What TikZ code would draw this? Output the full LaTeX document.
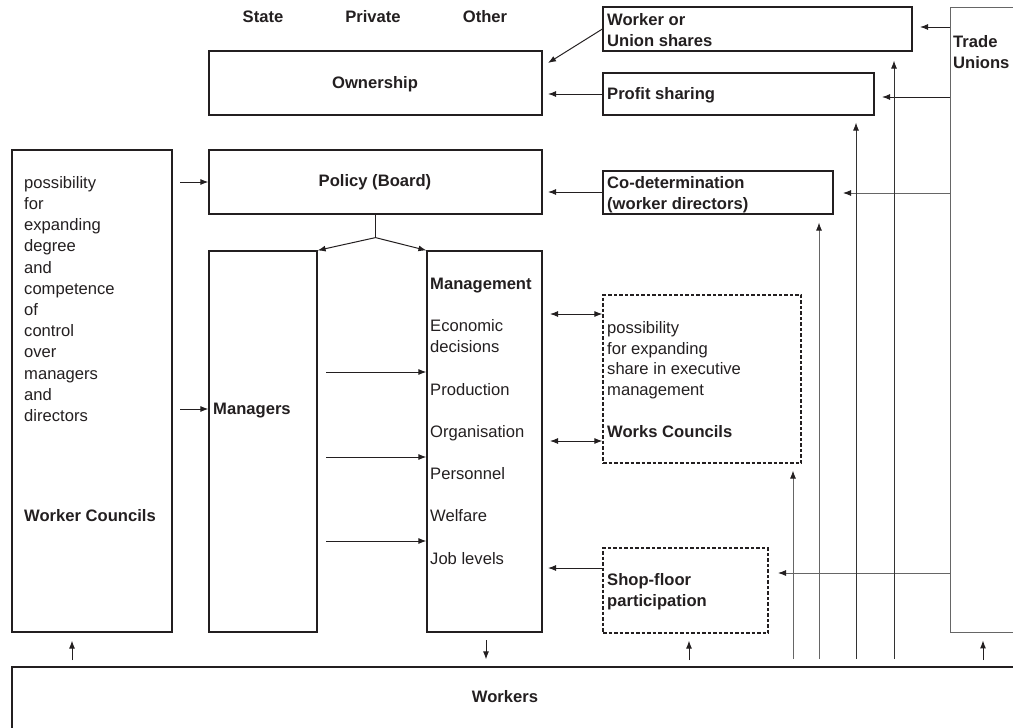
\documentclass[tikz,border=0pt]{standalone}
\usepackage{fontspec}
\setmainfont{Liberation Sans}
\usetikzlibrary{arrows.meta,calc}
\definecolor{ink}{HTML}{231F20}
\newcommand\fstrut{\rule{0pt}{13pt}}
\newcommand\mkbox[6]{\node[#6, minimum width={#4-#2}, minimum height={#5-#3}] (#1) at ({(#2+#4)/2},{(#3+#5)/2}) {};}
\tikzset{
  box/.style={draw=ink, line width=1.2pt, inner sep=0pt},
  dbox/.style={draw=ink, line width=1.2pt, inner sep=0pt, dash pattern=on 3.5pt off 2pt},
  gbox/.style={draw=black!60, line width=0.9pt, inner sep=0pt},
  tip/.style={},
  arr/.style={draw=ink, line width=1pt, -{Latex[length=8pt,width=6pt]}},
  darr/.style={draw=ink, line width=1pt, {Latex[length=8pt,width=6pt]}-{Latex[length=8pt,width=6pt]}},
  garr/.style={draw=black!60, line width=0.9pt, -{Latex[length=8pt,width=6pt,color=ink]}},
  plain/.style={draw=ink, line width=1pt},
  txt/.style={inner sep=0pt, text=ink, font=\fontsize{16.6}{21.2}\selectfont, align=left, anchor=north west},
  btxt/.style={inner sep=0pt, text=ink, font=\bfseries\fontsize{16.6}{21.2}\selectfont, align=left, anchor=north west},
  ctxt/.style={inner sep=0pt, text=ink, font=\bfseries\fontsize{16.6}{21.2}\selectfont, text height=12pt, text depth=4pt},
  ltxt/.style={ctxt, anchor=west},
}
\begin{document}
\begin{tikzpicture}[x=1pt,y=-1pt]
\useasboundingbox (0,0) rectangle (1013,728);
% boxes
\mkbox{own}{209}{51}{542}{115}{box}
\mkbox{pol}{209}{150}{542}{214}{box}
\mkbox{mgrs}{209}{251}{317}{632}{box}
\mkbox{mgmt}{427}{251}{542}{632}{box}
\mkbox{wcb}{12}{150}{172}{632}{box}
\mkbox{wus}{603}{7}{912}{51}{box}
\mkbox{ps}{603}{73}{874}{115}{box}
\mkbox{cod}{603}{171}{833}{214}{box}
\mkbox{works}{603}{295}{801}{463}{dbox}
\mkbox{shop}{603}{548}{768}{633}{dbox}
\mkbox{tu}{950}{7}{1040}{632}{gbox}
\mkbox{wk}{12}{667}{1040}{760}{box}
% texts
\node[ctxt] (lstate) at (263,18) {State};
\node[ctxt] (lpriv) at (373,18) {Private};
\node[ctxt] (lother) at (485,18) {Other};
\node[ctxt] (lown) at (375,84) {Ownership};
\node[ctxt] (lpol) at (375,182) {Policy (Board)};
\node[ctxt] (lwk) at (505,698) {Workers};
\node[btxt] (lwus) at (607,12) {\fstrut Worker or\\Union shares};
\node[ltxt] (lps) at (607,95) {Profit sharing};
\node[btxt] (lcod) at (607,175) {\fstrut Co-determination\\(worker directors)};
\node[btxt] (ltu) at (953,34) {\fstrut Trade\\Unions};
\node[txt] (lwcb) at (24,175) {\fstrut possibility\\for\\expanding\\degree\\and\\competence\\of\\control\\over\\managers\\and\\directors};
\node[ltxt] (lwc) at (24,517) {Worker Councils};
\node[ltxt] (lmgrs) at (213,410) {Managers};
\node[txt] (lmgmt) at (430,276) {\fstrut\textbf{Management}\\[21.1pt]Economic\\decisions\\[21.1pt]Production\\[21.1pt]Organisation\\[21.1pt]Personnel\\[21.1pt]Welfare\\[21.1pt]Job levels};
\node[txt, font=\fontsize{16.6}{20.8}\selectfont] (lworks) at (607,320) {\fstrut possibility\\for expanding\\share in executive\\management\\[20.8pt]\textbf{Works Councils}};
\node[btxt] (lshop) at (607,572) {\fstrut Shop-floor\\participation};
% arrows into ownership / policy
\coordinate (o1) at (548,63);
\draw[arr] (wus.west) -- (o1);
\coordinate (o2) at (548,94);
\draw[arr] (o2 -| ps.west) -- (o2);
\coordinate (p2) at (548,192);
\draw[arr] (p2 -| cod.west) -- (p2);
\coordinate (a1) at (180,182);
\draw[arr] (a1) -- (a1 -| pol.west);
\coordinate (a2) at (180,409);
\draw[arr] (a2) -- (a2 -| mgrs.west);
% tree
\draw[plain] (pol.south) -- ++(0,23) coordinate (tr);
\draw[arr] (tr) -- (mgrs.north east);
\draw[arr] (tr) -- (mgmt.north west);
% managers -> management
\foreach \yy [count=\i] in {372,457,541}{
  \coordinate (m\i) at (326,\yy);
  \draw[arr] (m\i) -- (m\i -| mgmt.west);
}
% management <-> works councils
\coordinate (d1) at (550,314);
\coordinate (d2) at (550,441);
\draw[darr] (d1) -- (d1 -| works.west);
\draw[darr] (d2) -- (d2 -| works.west);
\coordinate (s1) at (548,568);
\draw[arr] (s1 -| shop.west) -- (s1);
% trade unions arrows
\coordinate (t1) at (920,27);
\draw[arr] (t1 -| tu.west) -- (t1);
\coordinate (t2) at (882,97);
\draw[arr] (t2 -| tu.west) -- (t2);
\coordinate (t3) at (843,193);
\draw[garr] (t3 -| tu.west) -- (t3);
\coordinate (t4) at (778,573);
\draw[garr] (t4 -| tu.west) -- (t4);
% vertical lines from workers
\coordinate (v1) at (793,659);
\coordinate (v2) at (819,659);
\coordinate (v3) at (856,659);
\coordinate (v4) at (894,659);
\draw[garr, shorten >=7pt] (v1) -- (v1 |- works.south);
\draw[garr, shorten >=8pt] (v2) -- (v2 |- cod.south);
\draw[garr, draw=black!80, shorten >=7pt] (v3) -- (v3 |- ps.south);
\draw[garr, draw=black!80, shorten >=9pt] (v4) -- (v4 |- wus.south);
% bottom arrows
\coordinate (b1) at (72,660);
\draw[arr, shorten >=8pt] (b1) -- (b1 |- wcb.south);
\coordinate (b2) at (689,660);
\draw[arr, shorten >=7pt] (b2) -- (b2 |- shop.south);
\coordinate (b3) at (983,660);
\draw[arr, shorten >=8pt] (b3) -- (b3 |- tu.south);
\coordinate (b4) at (486,640);
\draw[arr, shorten >=7pt] (b4) -- (b4 |- wk.north);
\end{tikzpicture}
\end{document}
